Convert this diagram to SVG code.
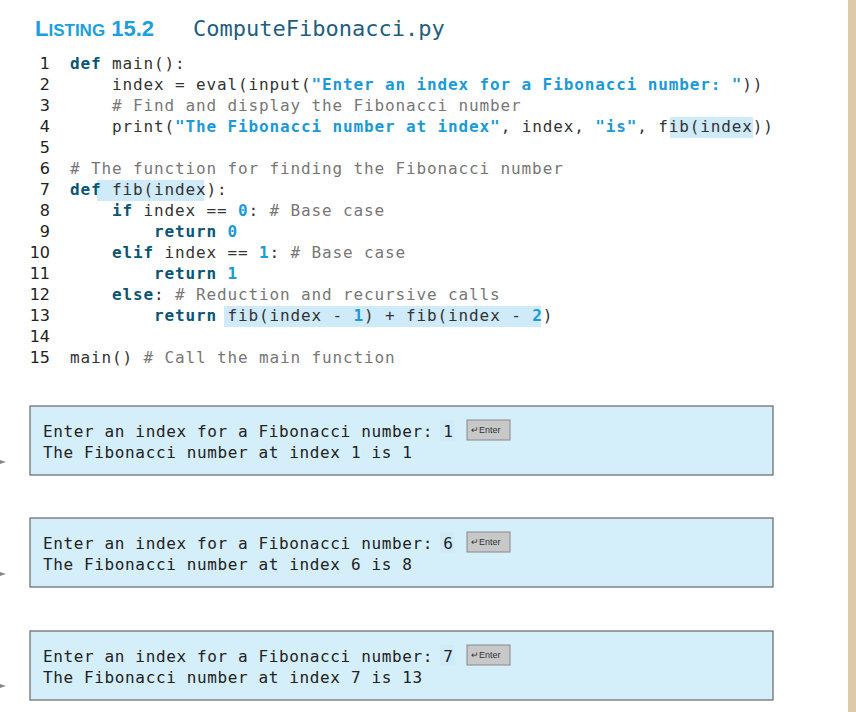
<svg xmlns="http://www.w3.org/2000/svg" width="856" height="712" viewBox="0 0 856 712">
<style>
.c{font-family:"DejaVu Sans Mono",monospace;font-size:16px;letter-spacing:0.87px;fill:#333}
.o{font-family:"DejaVu Sans Mono",monospace;font-size:16px;letter-spacing:0.63px;fill:#222}
.n{font-family:"DejaVu Sans",sans-serif;font-size:16px;fill:#222;text-anchor:end}
.k{fill:#0a5574;font-weight:bold}
.s{fill:#1a9ad6;font-weight:bold}
.m{fill:#777}
.h{fill:#cfeaf8}
.box{fill:#d4eefa;stroke:#666;stroke-width:1.2}
.btn{fill:#c8c8c8;stroke:#888}
.bt{font-family:"Liberation Sans",sans-serif;font-size:9px;fill:#333}
</style>
<rect width="856" height="712" fill="#fff"/>
<rect x="848" y="0" width="8" height="712" fill="#dccaa8"/>
<text x="35" y="36" font-family="Liberation Sans,sans-serif" font-weight="bold" fill="#1aa0dc" font-size="22">L<tspan font-size="17">ISTING</tspan> 15.2</text>
<text x="193" y="36" font-family="DejaVu Sans Mono,monospace" font-size="22" fill="#1e5f80">ComputeFibonacci.py</text>
<rect class="h" x="670" y="117" width="83" height="21"/>
<rect class="h" x="97" y="180" width="107" height="21"/>
<rect class="h" x="224" y="306" width="317" height="21"/>
<g id="code">
<text class="n" x="50" y="69">1</text><text class="c" x="70" y="69"><tspan class="k">def</tspan> main():</text>
<text class="n" x="50" y="90">2</text><text class="c" x="112" y="90">index = eval(input(<tspan class="s">"Enter an index for a Fibonacci number: "</tspan>))</text>
<text class="n" x="50" y="111">3</text><text class="c m" x="112" y="111"># Find and display the Fibonacci number</text>
<text class="n" x="50" y="132">4</text><text class="c" x="112" y="132">print(<tspan class="s">"The Fibonacci number at index"</tspan>, index, <tspan class="s">"is"</tspan>, fib(index))</text>
<text class="n" x="50" y="153">5</text>
<text class="n" x="50" y="174">6</text><text class="c m" x="70" y="174"># The function for finding the Fibonacci number</text>
<text class="n" x="50" y="195">7</text><text class="c" x="70" y="195"><tspan class="k">def</tspan> fib(index):</text>
<text class="n" x="50" y="216">8</text><text class="c" x="112" y="216"><tspan class="k">if</tspan> index == <tspan class="s">0</tspan>: <tspan class="m"># Base case</tspan></text>
<text class="n" x="50" y="237">9</text><text class="c" x="154" y="237"><tspan class="k">return</tspan> <tspan class="s">0</tspan></text>
<text class="n" x="50" y="258">10</text><text class="c" x="112" y="258"><tspan class="k">elif</tspan> index == <tspan class="s">1</tspan>: <tspan class="m"># Base case</tspan></text>
<text class="n" x="50" y="279">11</text><text class="c" x="154" y="279"><tspan class="k">return</tspan> <tspan class="s">1</tspan></text>
<text class="n" x="50" y="300">12</text><text class="c" x="112" y="300"><tspan class="k">else</tspan>:  <tspan class="m"># Reduction and recursive calls</tspan></text>
<text class="n" x="50" y="321">13</text><text class="c" x="154" y="321"><tspan class="k">return</tspan> fib(index - <tspan class="s">1</tspan>) + fib(index - <tspan class="s">2</tspan>)</text>
<text class="n" x="50" y="342">14</text>
<text class="n" x="50" y="363">15</text><text class="c" x="70" y="363">main() <tspan class="m"># Call the main function</tspan></text>
</g>
<g id="out1">
<rect class="box" x="30" y="406" width="743" height="69"/>
<rect class="h" x="440" y="420" width="15" height="21" fill="#a8dcf4"/>
<text class="o" x="43" y="437">Enter an index for a Fibonacci number: 1</text>
<text class="o" x="43" y="458">The Fibonacci number at index 1 is 1</text>
<rect class="btn" x="467" y="420" width="43" height="20"/><text class="bt" x="471" y="433">↵Enter</text>
</g>
<g id="out2">
<rect class="box" x="30" y="518" width="743" height="69"/>
<rect class="h" x="440" y="532" width="15" height="21" fill="#a8dcf4"/>
<text class="o" x="43" y="549">Enter an index for a Fibonacci number: 6</text>
<text class="o" x="43" y="570">The Fibonacci number at index 6 is 8</text>
<rect class="btn" x="467" y="532" width="43" height="20"/><text class="bt" x="471" y="545">↵Enter</text>
</g>
<g id="out3">
<rect class="box" x="30" y="631" width="743" height="69"/>
<rect class="h" x="440" y="645" width="15" height="21" fill="#a8dcf4"/>
<text class="o" x="43" y="662">Enter an index for a Fibonacci number: 7</text>
<text class="o" x="43" y="683">The Fibonacci number at index 7 is 13</text>
<rect class="btn" x="467" y="645" width="43" height="20"/><text class="bt" x="471" y="658">↵Enter</text>
</g>
<g id="connectors" fill="#888">
<polygon points="0,460 6,462 0,464"/>
<polygon points="0,572 6,574 0,576"/>
<polygon points="0,684 6,686 0,688"/>
</g>
</svg>
